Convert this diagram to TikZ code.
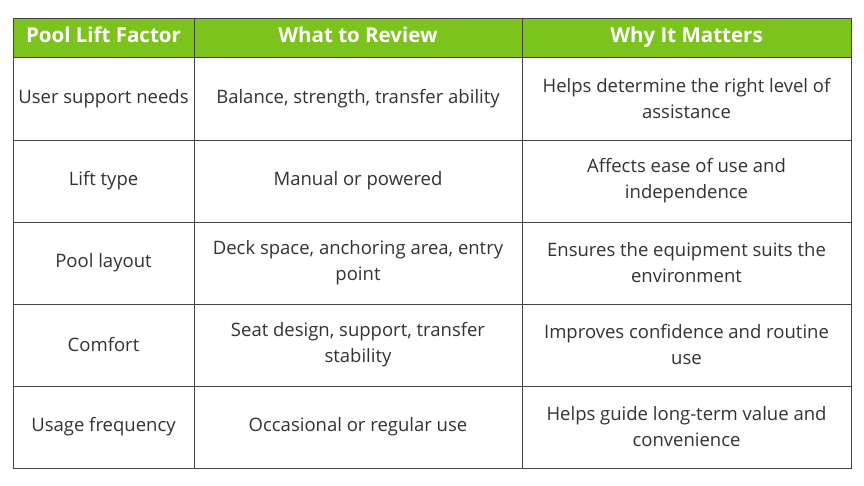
\documentclass[tikz,border=0pt]{standalone}
\usepackage{fontspec}
\setmainfont{Open Sans}
\definecolor{hdr}{HTML}{7CC31E}
\definecolor{txt}{HTML}{333333}
\definecolor{grid}{HTML}{444444}
\begin{document}
\begin{tikzpicture}[x=1pt,y=-1pt,
 hd/.style={text=white,font=\fontsize{20.5}{24}\selectfont\bfseries,align=center,text height=15pt,text depth=4pt},
 cell/.style={text=txt,font=\fontsize{18.5}{26}\selectfont,align=center}]
\useasboundingbox (0,0) rectangle (864,486);
\fill[white] (0,0) rectangle (864,486);
\fill[hdr] (13,18) rectangle (851,57);
\draw[grid,line width=0.8pt] (13,18) rectangle (851,468);
\foreach \x in {194,522} \draw[grid,line width=0.8pt] (\x,18) -- (\x,468);
\foreach \y in {57,140,222,304,386} \draw[grid,line width=0.8pt] (13,\y) -- (851,\y);
\node[hd] (h1) at (103.5,37.5) {Pool Lift Factor};
\node[hd] (h2) at (358,37.5) {What to Review};
\node[hd] (h3) at (686.5,37.5) {Why It Matters};
\node[cell] (a1) at (103.5,98.5) {User support needs};
\node[cell] (b1) at (358,98.5) {Balance, strength, transfer ability};
\node[cell] (c1) at (686.5,98.5) {Helps determine the right level of\\assistance};
\node[cell] (a2) at (103.5,181) {Lift type};
\node[cell] (b2) at (358,181) {Manual or powered};
\node[cell] (c2) at (686.5,181) {Affects ease of use and\\independence};
\node[cell] (a3) at (103.5,263) {Pool layout};
\node[cell] (b3) at (358,263) {Deck space, anchoring area, entry\\point};
\node[cell] (c3) at (686.5,263) {Ensures the equipment suits the\\environment};
\node[cell] (a4) at (103.5,345) {Comfort};
\node[cell] (b4) at (358,345) {Seat design, support, transfer\\stability};
\node[cell] (c4) at (686.5,345) {Improves confidence and routine\\use};
\node[cell] (a5) at (103.5,427) {Usage frequency};
\node[cell] (b5) at (358,427) {Occasional or regular use};
\node[cell] (c5) at (686.5,427) {Helps guide long-term value and\\convenience};
\end{tikzpicture}
\end{document}
